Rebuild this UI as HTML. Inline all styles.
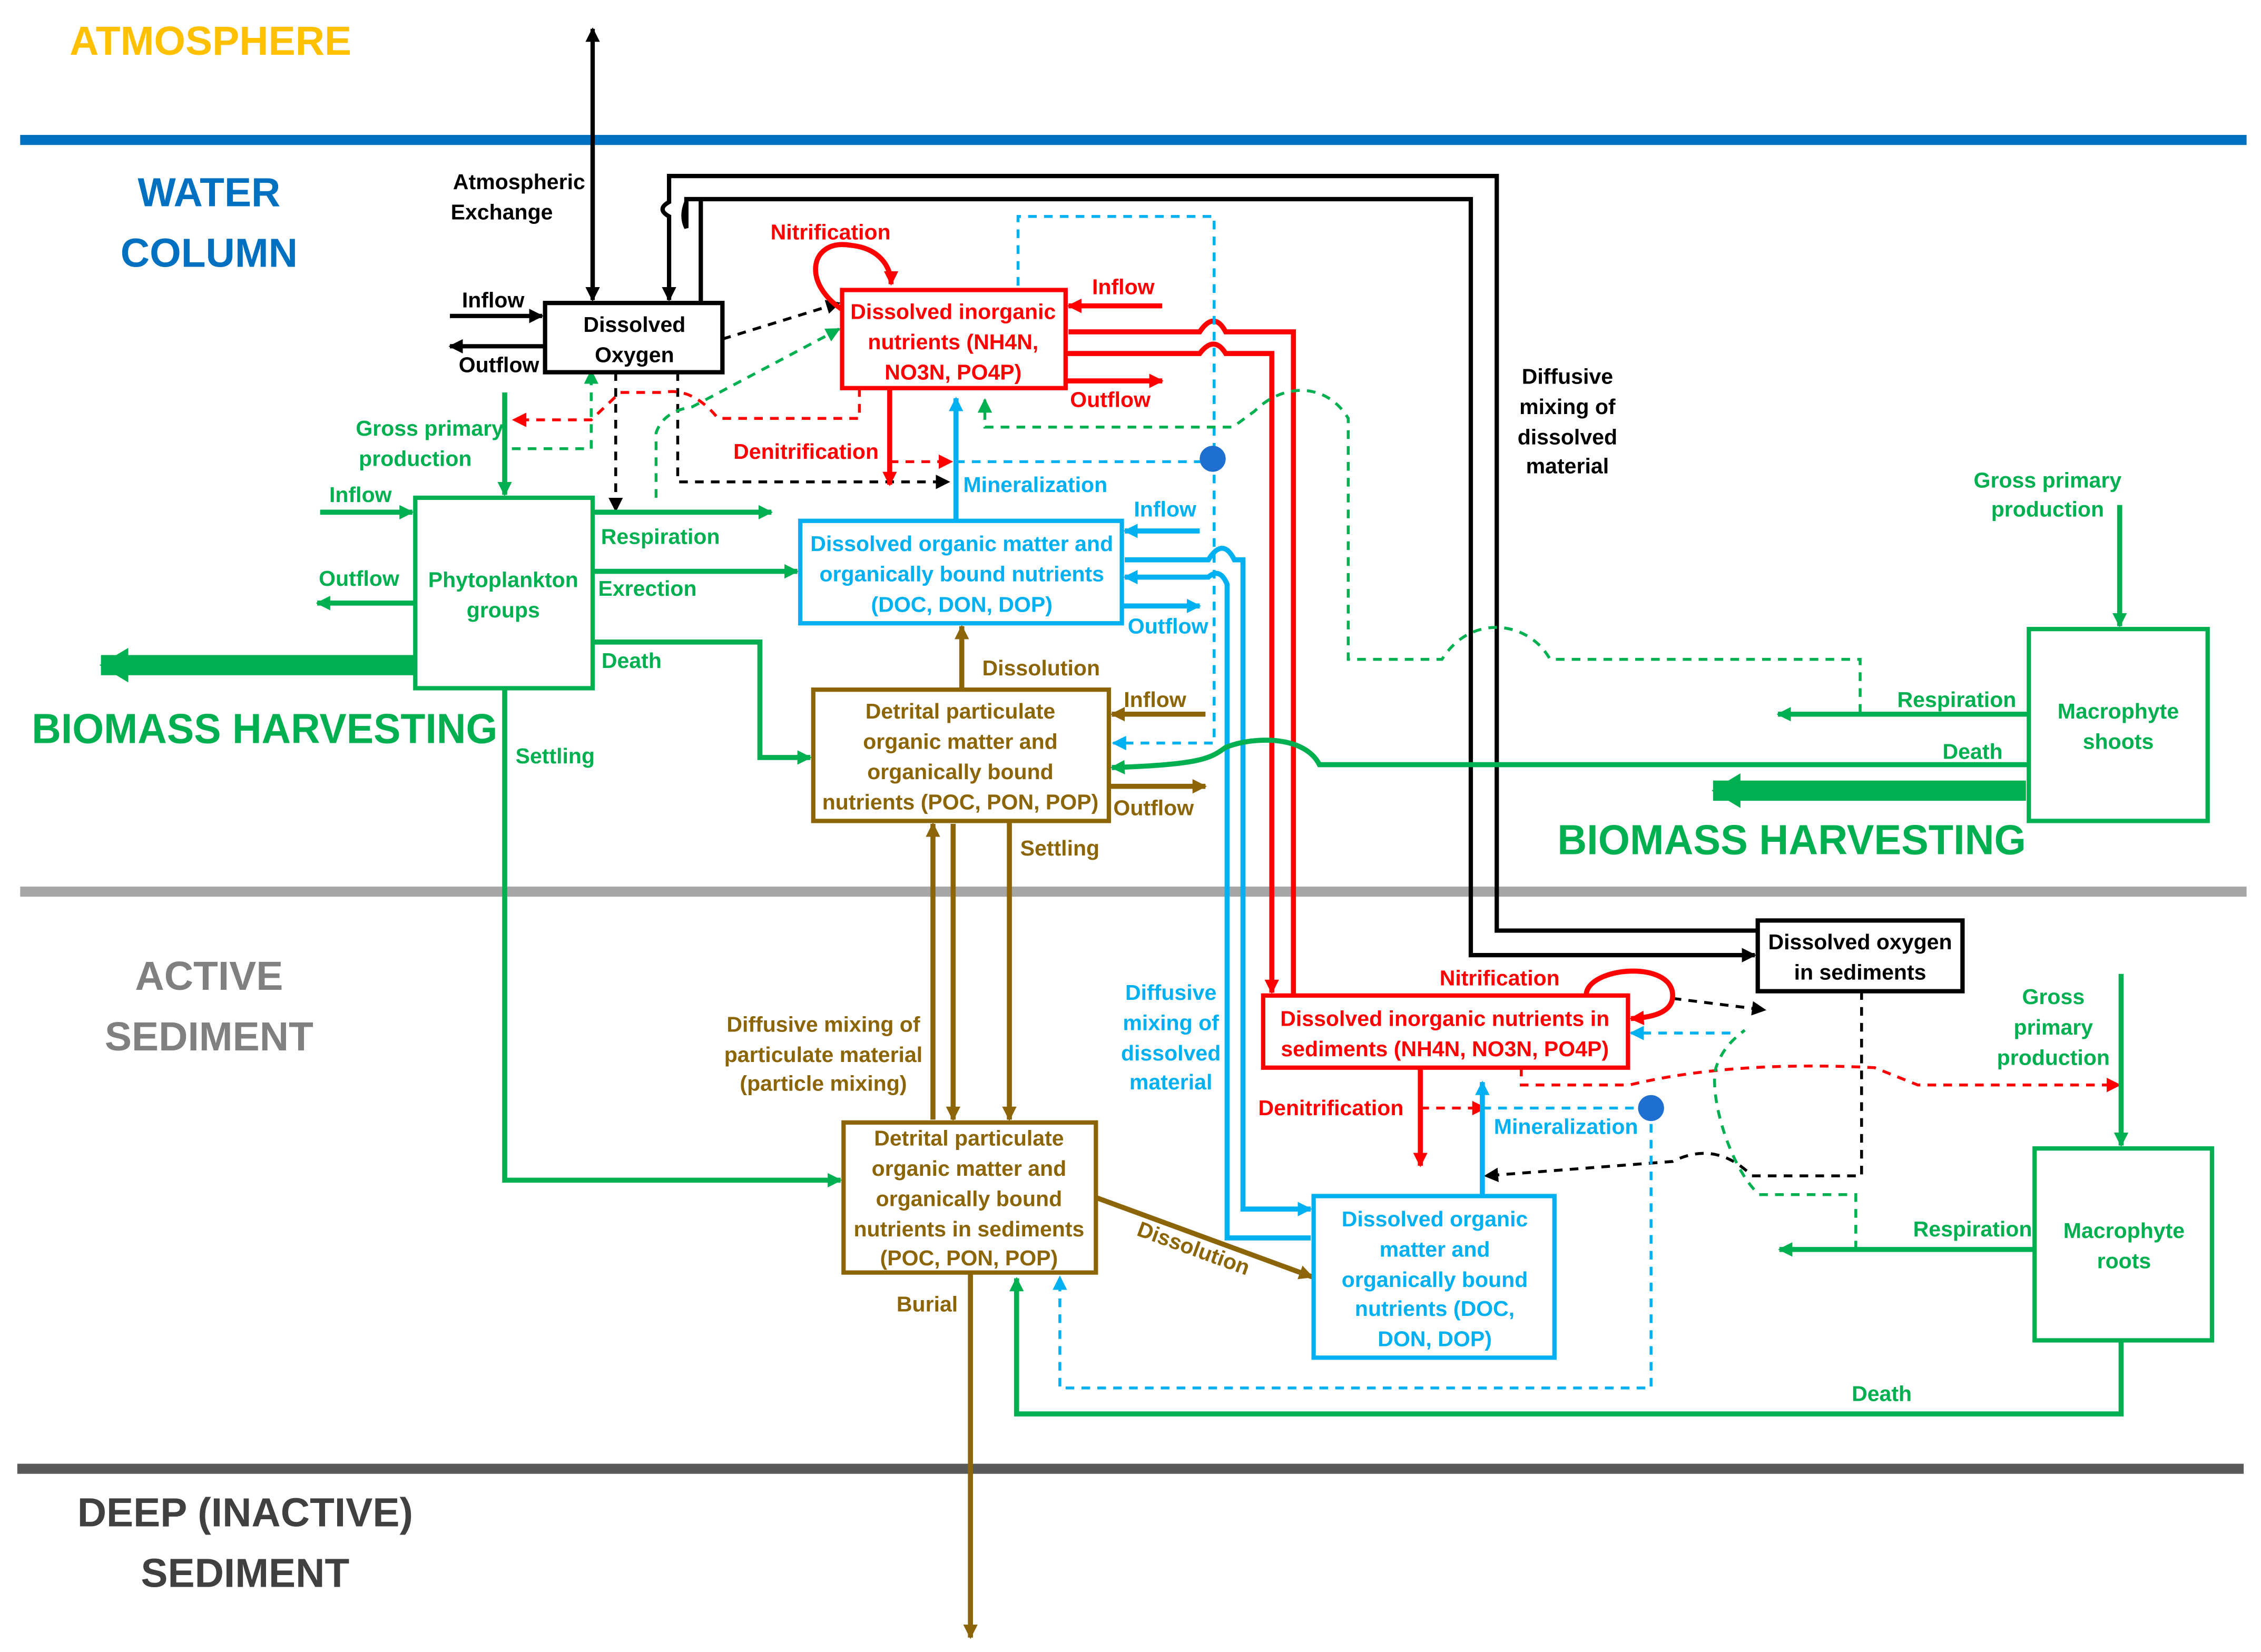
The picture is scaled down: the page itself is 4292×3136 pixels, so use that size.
<!DOCTYPE html>
<html><head><meta charset="utf-8"><style>
html,body{margin:0;padding:0;background:#fff}
svg{display:block}
text{font-family:"Liberation Sans",sans-serif;font-weight:bold}
</style></head><body>
<svg width="4292" height="3136" viewBox="0 0 1568 1145" preserveAspectRatio="none" xmlns="http://www.w3.org/2000/svg">
<defs>
<marker id="k" markerWidth="10" markerHeight="10" refX="9" refY="5" orient="auto" markerUnits="userSpaceOnUse"><path d="M0,0 L10,5 L0,10 z" fill="#000"/></marker>
<marker id="r" markerWidth="10" markerHeight="10" refX="9" refY="5" orient="auto" markerUnits="userSpaceOnUse"><path d="M0,0 L10,5 L0,10 z" fill="#f00"/></marker>
<marker id="g" markerWidth="10" markerHeight="10" refX="9" refY="5" orient="auto" markerUnits="userSpaceOnUse"><path d="M0,0 L10,5 L0,10 z" fill="#00b050"/></marker>
<marker id="b" markerWidth="10" markerHeight="10" refX="9" refY="5" orient="auto" markerUnits="userSpaceOnUse"><path d="M0,0 L10,5 L0,10 z" fill="#00b0f0"/></marker>
<marker id="n" markerWidth="10" markerHeight="10" refX="9" refY="5" orient="auto" markerUnits="userSpaceOnUse"><path d="M0,0 L10,5 L0,10 z" fill="#8b6508"/></marker>
<marker id="gb" markerWidth="20" markerHeight="24" refX="19" refY="12" orient="auto" markerUnits="userSpaceOnUse"><path d="M0,0 L20,12 L0,24 z" fill="#00b050"/></marker>
</defs>
<rect width="1568" height="1145" fill="#fff"/>
<line x1="14" y1="97" x2="1558" y2="97" stroke="#0070c0" stroke-width="7"/>
<line x1="14" y1="618" x2="1558" y2="618" stroke="#a6a6a6" stroke-width="7"/>
<line x1="12" y1="1018" x2="1556" y2="1018" stroke="#595959" stroke-width="7"/>

<g font-size="28" text-anchor="middle">
<text x="146" y="38" fill="#ffc000">ATMOSPHERE</text>
<text x="145" y="143" fill="#0070c0">WATER</text>
<text x="145" y="185" fill="#0070c0">COLUMN</text>
<text x="145" y="686" fill="#808080">ACTIVE</text>
<text x="145" y="728" fill="#808080">SEDIMENT</text>
<text x="170" y="1058" fill="#404040">DEEP (INACTIVE)</text>
<text x="170" y="1100" fill="#404040">SEDIMENT</text>
</g>
<text x="22" y="515" fill="#00b050" font-size="29" textLength="323" lengthAdjust="spacingAndGlyphs">BIOMASS HARVESTING</text>
<text x="1080" y="592" fill="#00b050" font-size="29" textLength="325" lengthAdjust="spacingAndGlyphs">BIOMASS HARVESTING</text>

<g stroke="#000" stroke-width="3" fill="none">
<line x1="411" y1="205" x2="411" y2="20" marker-end="url(#k)"/>
<line x1="411" y1="100" x2="411" y2="208" marker-end="url(#k)"/>
<line x1="312" y1="219" x2="376" y2="219" marker-end="url(#k)"/>
<line x1="378" y1="240" x2="312" y2="240" marker-end="url(#k)"/>
<path d="M1219,645 L1038,645 L1038,122 L464,122 L464,140 Q455,145 464,150 L464,208" marker-end="url(#k)"/>
<path d="M486,210 L486,138 L476,138 L476,158 Q472,150 476,140 M486,138 L1020,138 L1020,662 L1217,662" marker-end="url(#k)"/>
</g>
<g stroke="#000" stroke-width="2" fill="none" stroke-dasharray="6,5">
<line x1="501" y1="235" x2="582" y2="210" marker-end="url(#k)"/>
<line x1="427" y1="258" x2="427" y2="354" marker-end="url(#k)"/>
<path d="M470,258 L470,334 L658,334" marker-end="url(#k)"/>
<path d="M1160,692 L1224,700" marker-end="url(#k)"/>
<path d="M1291,687 L1291,815 L1215,815 Q1190,790 1160,805 L1030,815" marker-end="url(#k)"/>
</g>

<g stroke="#f00" stroke-width="3.5" fill="none">
<path d="M590,218 C555,200 560,165 590,170 C610,172 618,185 618,197" marker-end="url(#r)"/>
<line x1="806" y1="212" x2="741" y2="212" marker-end="url(#r)"/>
<line x1="739" y1="264" x2="806" y2="264" marker-end="url(#r)"/>
<line x1="617" y1="269" x2="617" y2="336" marker-end="url(#r)"/>
<path d="M741,230 L832,230 Q842,215 850,230 L897,230 L897,690"/>
<path d="M739,245 L832,245 Q842,232 850,245 L882,245 L882,688" marker-end="url(#r)"/>
<path d="M1100,690 C1100,670 1160,665 1160,690 C1160,700 1150,705 1131,706" marker-end="url(#r)"/>
<line x1="985" y1="740" x2="985" y2="808" marker-end="url(#r)"/>
</g>
<g stroke="#f00" stroke-width="2" fill="none" stroke-dasharray="6,5">
<line x1="617" y1="320" x2="660" y2="320" marker-end="url(#r)"/>
<path d="M596,269 L596,290 L498,290 Q480,268 460,272 L430,272 L410,291 L356,291" marker-end="url(#r)"/>
<line x1="985" y1="768" x2="1030" y2="768" marker-end="url(#r)"/>
<path d="M1055,740 L1055,752 L1130,752 Q1200,735 1300,740 L1330,752 L1470,752" marker-end="url(#r)"/>
</g>

<g stroke="#00b0f0" stroke-width="3.5" fill="none">
<line x1="663" y1="361" x2="663" y2="276" marker-end="url(#b)"/>
<line x1="832" y1="368" x2="780" y2="368" marker-end="url(#b)"/>
<line x1="778" y1="420" x2="832" y2="420" marker-end="url(#b)"/>
<path d="M780,388 L838,388 Q848,372 856,388 L862,388 L862,838 L909,838" marker-end="url(#b)"/>
<path d="M909,858 L851,858 L851,405 Q846,393 838,400 L780,400" marker-end="url(#b)"/>
<line x1="1028" y1="829" x2="1028" y2="750" marker-end="url(#b)"/>
</g>
<g stroke="#00b0f0" stroke-width="2" fill="none" stroke-dasharray="6,5">
<path d="M663,320 L840,320"/>
<path d="M706,198 L706,150 L842,150 L842,515 L772,515" marker-end="url(#b)"/>
<path d="M1028,768 L1145,768"/>
<path d="M1145,768 L1145,962 L735,962 L735,885" marker-end="url(#b)"/>
<path d="M1200,716 L1131,716" marker-end="url(#b)"/>
</g>
<circle cx="841" cy="318" r="9" fill="#1f6fd0"/>
<circle cx="1145" cy="768" r="9" fill="#1f6fd0"/>

<g stroke="#8b6508" stroke-width="3.5" fill="none">
<line x1="667" y1="478" x2="667" y2="434" marker-end="url(#n)"/>
<line x1="836" y1="495" x2="771" y2="495" marker-end="url(#n)"/>
<line x1="769" y1="545" x2="836" y2="545" marker-end="url(#n)"/>
<line x1="700" y1="569" x2="700" y2="776" marker-end="url(#n)"/>
<line x1="647" y1="776" x2="647" y2="571" marker-end="url(#n)"/>
<line x1="661" y1="571" x2="661" y2="776" marker-end="url(#n)"/>
<line x1="760" y1="830" x2="910" y2="885" marker-end="url(#n)"/>
<line x1="673" y1="882" x2="673" y2="1135" marker-end="url(#n)"/>
</g>

<g stroke="#00b050" stroke-width="3.5" fill="none">
<line x1="350" y1="272" x2="350" y2="343" marker-end="url(#g)"/>
<line x1="222" y1="355" x2="286" y2="355" marker-end="url(#g)"/>
<line x1="288" y1="418" x2="220" y2="418" marker-end="url(#g)"/>
<line x1="411" y1="355" x2="535" y2="355" marker-end="url(#g)"/>
<line x1="411" y1="396" x2="553" y2="396" marker-end="url(#g)"/>
<path d="M411,445 L527,445 L527,525 L562,525" marker-end="url(#g)"/>
<path d="M350,477 L350,818 L583,818" marker-end="url(#g)"/>
<line x1="1470" y1="350" x2="1470" y2="434" marker-end="url(#g)"/>
<line x1="1407" y1="495" x2="1233" y2="495" marker-end="url(#g)"/>
<path d="M1407,530 L915,530 C905,510 870,510 850,518 C840,525 835,530 771,532" marker-end="url(#g)"/>
<line x1="1471" y1="675" x2="1471" y2="794" marker-end="url(#g)"/>
<line x1="1411" y1="866" x2="1234" y2="866" marker-end="url(#g)"/>
<path d="M1471,929 L1471,980 L705,980 L705,886" marker-end="url(#g)"/>
</g>
<g stroke="#00b050" stroke-width="14" fill="none">
<line x1="288" y1="461" x2="70" y2="461" marker-end="url(#gb)"/>
<line x1="1405" y1="548" x2="1188" y2="548" marker-end="url(#gb)"/>
</g>
<g stroke="#00b050" stroke-width="2" fill="none" stroke-dasharray="6,5">
<path d="M355,311 L410,311 L410,257" marker-end="url(#g)"/>
<path d="M455,345 L455,300 Q460,285 480,282 L582,228" marker-end="url(#g)"/>
<path d="M1290,494 L1290,457 L1075,457 C1060,430 1020,425 1000,457 L935,457 L935,290 C920,265 890,265 870,285 L855,296 L683,296 L683,277" marker-end="url(#g)"/>
<path d="M1287,866 L1287,828 L1220,828 C1200,810 1185,760 1190,740 C1195,725 1205,718 1210,714"/>
</g>

<g stroke-width="3" fill="#fff">
<rect x="378" y="210" width="123" height="48" stroke="#000"/>
<rect x="584" y="201" width="155" height="68" stroke="#f00"/>
<rect x="288" y="345" width="123" height="132" stroke="#00b050"/>
<rect x="555" y="361" width="223" height="71" stroke="#00b0f0"/>
<rect x="564" y="478" width="205" height="91" stroke="#8b6508"/>
<rect x="1407" y="436" width="124" height="133" stroke="#00b050"/>
<rect x="1219" y="638" width="142" height="49" stroke="#000"/>
<rect x="876" y="690" width="253" height="50" stroke="#f00"/>
<rect x="585" y="778" width="175" height="104" stroke="#8b6508"/>
<rect x="911" y="829" width="167" height="112" stroke="#00b0f0"/>
<rect x="1411" y="796" width="123" height="133" stroke="#00b050"/>
</g>

<g font-size="15" text-anchor="middle">
<text x="440" y="230">Dissolved</text><text x="440" y="251">Oxygen</text>
<g fill="#f00"><text x="661" y="221">Dissolved inorganic</text><text x="661" y="242">nutrients (NH4N,</text><text x="661" y="263">NO3N, PO4P)</text></g>
<g fill="#00b050"><text x="349" y="407">Phytoplankton</text><text x="349" y="428">groups</text></g>
<g fill="#00b0f0"><text x="667" y="382">Dissolved organic matter and</text><text x="667" y="403">organically bound nutrients</text><text x="667" y="424">(DOC, DON, DOP)</text></g>
<g fill="#8b6508"><text x="666" y="498">Detrital particulate</text><text x="666" y="519">organic matter and</text><text x="666" y="540">organically bound</text><text x="666" y="561">nutrients (POC, PON, POP)</text></g>
<g fill="#00b050"><text x="1469" y="498">Macrophyte</text><text x="1469" y="519">shoots</text></g>
<text x="1290" y="658">Dissolved oxygen</text><text x="1290" y="679">in sediments</text>
<g fill="#f00"><text x="1002" y="711">Dissolved inorganic nutrients in</text><text x="1002" y="732">sediments (NH4N, NO3N, PO4P)</text></g>
<g fill="#8b6508"><text x="672" y="794">Detrital particulate</text><text x="672" y="815">organic matter and</text><text x="672" y="836">organically bound</text><text x="672" y="857">nutrients in sediments</text><text x="672" y="877">(POC, PON, POP)</text></g>
<g fill="#00b0f0"><text x="995" y="850">Dissolved organic</text><text x="995" y="871">matter and</text><text x="995" y="892">organically bound</text><text x="995" y="912">nutrients (DOC,</text><text x="995" y="933">DON, DOP)</text></g>
<g fill="#00b050"><text x="1473" y="858">Macrophyte</text><text x="1473" y="879">roots</text></g>

<text x="360" y="131">Atmospheric</text><text x="348" y="152">Exchange</text>
<text x="342" y="213">Inflow</text><text x="346" y="258">Outflow</text>
<text x="1087" y="266">Diffusive</text><text x="1087" y="287">mixing of</text><text x="1087" y="308">dissolved</text><text x="1087" y="328">material</text>
<g fill="#f00"><text x="576" y="166">Nitrification</text><text x="779" y="204">Inflow</text><text x="770" y="282">Outflow</text><text x="559" y="318">Denitrification</text>
<text x="1040" y="683">Nitrification</text><text x="923" y="773">Denitrification</text></g>
<g fill="#00b0f0"><text x="718" y="341">Mineralization</text><text x="808" y="358">Inflow</text><text x="810" y="439">Outflow</text><text x="1086" y="786">Mineralization</text>
<text x="812" y="693">Diffusive</text><text x="812" y="714">mixing of</text><text x="812" y="735">dissolved</text><text x="812" y="755">material</text></g>
<g fill="#8b6508"><text x="722" y="468">Dissolution</text><text x="801" y="490">Inflow</text><text x="800" y="565">Outflow</text><text x="735" y="593">Settling</text>
<text x="571" y="715">Diffusive mixing of</text><text x="571" y="736">particulate material</text><text x="571" y="756">(particle mixing)</text>
<text x="643" y="909">Burial</text><text x="826" y="870" transform="rotate(20 826 870)">Dissolution</text></g>
<g fill="#00b050"><text x="298" y="302">Gross primary</text><text x="288" y="323">production</text>
<text x="250" y="348">Inflow</text><text x="249" y="406">Outflow</text>
<text x="458" y="377">Respiration</text><text x="449" y="413">Exrection</text><text x="438" y="463">Death</text><text x="385" y="529">Settling</text>
<text x="1420" y="338">Gross primary</text><text x="1420" y="358">production</text>
<text x="1357" y="490">Respiration</text><text x="1368" y="526">Death</text>
<text x="1424" y="696">Gross</text><text x="1424" y="717">primary</text><text x="1424" y="738">production</text>
<text x="1368" y="857">Respiration</text><text x="1305" y="971">Death</text></g>
</g>
</svg>
</body></html>
